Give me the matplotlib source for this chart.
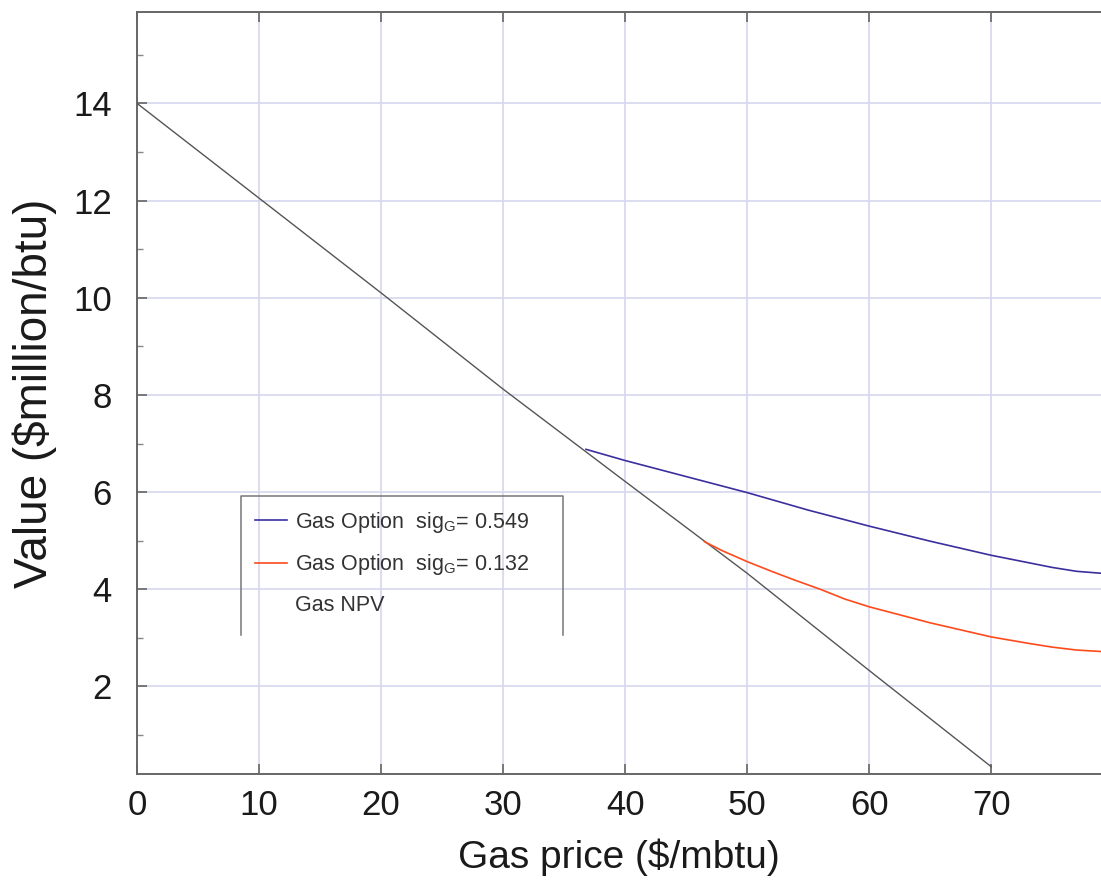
#!/usr/bin/env python3
"""Gas option value vs gas price: two volatility cases against the plain NPV line."""
import matplotlib

matplotlib.use("Agg")
import matplotlib.pyplot as plt
from matplotlib.lines import Line2D

plt.rcParams["font.family"] = ["Liberation Sans", "DejaVu Sans"]
plt.rcParams["mathtext.fontset"] = "custom"
plt.rcParams["mathtext.rm"] = "Liberation Sans"
plt.rcParams["mathtext.it"] = "Liberation Sans"

# Gas NPV (straight line, ends at 70 $/mbtu)
npv_price = [0, 10, 20, 30, 40, 50, 60, 70]
npv_value = [14.0, 12.05, 10.1, 8.12, 6.22, 4.33, 2.33, 0.35]

# Gas option, sigma_G = 0.549
hi_price = [36.8, 40, 45, 50, 55, 60, 65, 70, 73, 75, 77, 79]
hi_value = [6.88, 6.65, 6.32, 5.99, 5.63, 5.30, 4.99, 4.70, 4.55, 4.45, 4.37, 4.33]

# Gas option, sigma_G = 0.132
lo_price = [46.5, 48, 50, 52, 54, 56, 58, 60, 65, 70, 73, 75, 77, 79]
lo_value = [4.98, 4.79, 4.57, 4.37, 4.18, 4.00, 3.80, 3.64, 3.31, 3.02, 2.89, 2.81, 2.75, 2.72]

x_ticks = [0, 10, 20, 30, 40, 50, 60, 70]
y_ticks = [2, 4, 6, 8, 10, 12, 14]
y_minor = [1, 3, 5, 7, 9, 11, 13, 15]

BLUE = "#3b2f9e"
RED = "#ff4a1c"
GRAY = "#555555"
GRID = "#d7d7ef"

fig = plt.figure(figsize=(11.01, 8.93), dpi=100)
ax = fig.add_axes([0.1244, 0.1333, 0.8756, 0.8533])

ax.plot(npv_price, npv_value, color=GRAY, lw=1.0, zorder=3)
ax.plot(hi_price, hi_value, color=BLUE, lw=1.2, zorder=3)
ax.plot(lo_price, lo_value, color=RED, lw=1.2, zorder=3)

ax.set_xlim(0, 79)
ax.set_ylim(0.2, 15.88)
ax.set_xticks(x_ticks)
ax.set_yticks(y_ticks)
ax.set_yticks(y_minor, minor=True)
ax.grid(True, which="major", color=GRID, lw=1.2, zorder=0)

ax.spines["right"].set_visible(False)
for side in ("left", "bottom", "top"):
    ax.spines[side].set_color("#666666")
    ax.spines[side].set_linewidth(1.4)

ax.tick_params(axis="both", which="major", direction="in", length=7, width=1.2,
               color="#666666", labelcolor="#1a1a1a", labelsize=25, top=True)
ax.tick_params(axis="y", pad=18)
ax.tick_params(axis="x", pad=11)
ax.tick_params(axis="y", which="minor", direction="in", length=4, width=1.0,
               color="#888888")

ax.set_xlabel("Gas price ($/mbtu)", fontsize=28, color="#1a1a1a", labelpad=12)
ax.set_ylabel("Value ($million/btu)", fontsize=33, color="#1a1a1a", labelpad=12)

# Legend: the NPV entry has no visible sample in the original.
handles = [
    Line2D([], [], color=BLUE, lw=1.2),
    Line2D([], [], color=RED, lw=1.2),
    Line2D([], [], color="none"),
]
labels = [
    r"Gas Option  sig$_{\mathrm{G}}$= 0.549",
    r"Gas Option  sig$_{\mathrm{G}}$= 0.132",
    "Gas NPV",
]
leg = ax.legend(handles, labels, loc="upper left", bbox_to_anchor=(0.113, 0.358),
                frameon=False, fontsize=15.5, handlelength=1.5, handletextpad=0.4,
                labelspacing=0.82, borderaxespad=0)
for t in leg.get_texts():
    t.set_color("#333333")

# Three-sided bracket around the legend (no bottom edge).
bx0, bx1, by0, by1 = 0.1079, 0.4419, 0.1824, 0.3648
ax.plot([bx0, bx0, bx1, bx1], [by0, by1, by1, by0], color="#777777", lw=1.1,
        transform=ax.transAxes, clip_on=False, zorder=4)

fig.savefig("out.png", dpi=100, facecolor="white")
